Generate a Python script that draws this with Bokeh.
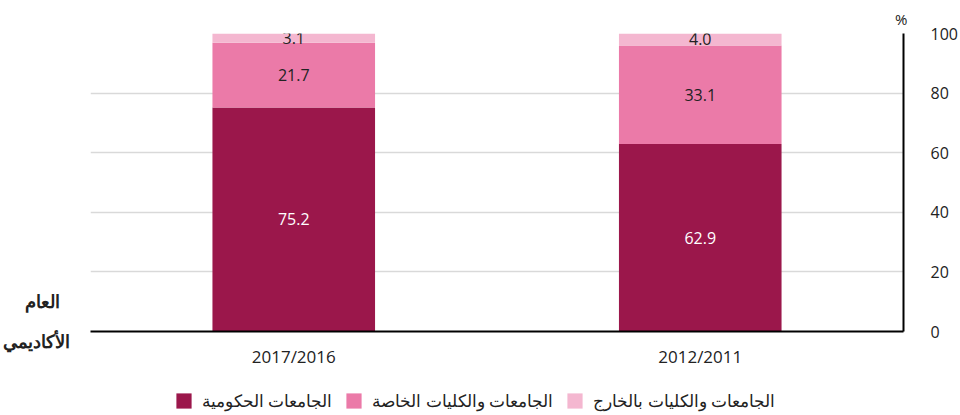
from bokeh.plotting import figure
from bokeh.layouts import row, column
from bokeh.models import (ColumnDataSource, Range1d, FactorRange, Legend,
                          LegendItem, FixedTicker, Title)
from bokeh.core.properties import value
from bokeh.embed import file_html
from bokeh.resources import INLINE

# ---- data ----
years = ["2017/2016", "2012/2011"]
gov = [75.2, 62.9]
private = [21.7, 33.1]
abroad = [3.1, 4.0]
series_keys = ["gov", "private", "abroad"]
series_names = ["الجامعات الحكومية", "الجامعات والكليات الخاصة", "الجامعات والكليات بالخارج"]
colors = ["#9B174B", "#EB7AA8", "#F4B7D0"]
label_colors = ["white", "#222222", "#222222"]
y_ticks = [0, 20, 40, 60, 80, 100]
axis_title_lines = ["العام", "الأكاديمي"]
unit_label = "%"

FONT = "Open Sans"
TXT = "#222222"
MAIN_H = 380
LEG_H = 35

source = ColumnDataSource(dict(years=years, gov=gov, private=private, abroad=abroad))

# ---------------- main chart ----------------
p = figure(x_range=FactorRange(factors=years), y_range=Range1d(0, 100),
           width=870, height=MAIN_H, output_backend="svg", toolbar_location=None,
           y_axis_location="right", min_border_left=0, min_border_right=57,
           min_border_top=33, min_border_bottom=49)
p.outline_line_color = None
p.frame_align = False

renderers = p.vbar_stack(series_keys, x="years", width=0.4, color=colors,
                         line_color=None, source=source)

bottoms = [0.0] * len(years)
for key, lc in zip(series_keys, label_colors):
    vals = source.data[key]
    mids = [b + v / 2 for b, v in zip(bottoms, vals)]
    txt = [f"{v:.1f}" for v in vals]
    s = ColumnDataSource(dict(x=years, y=mids, t=txt))
    p.text(x="x", y="y", text="t", source=s, text_align="center",
           text_baseline="middle", text_color=lc, text_font=value(FONT),
           text_font_size="16px")
    bottoms = [b + v for b, v in zip(bottoms, vals)]

yax = p.yaxis[0]
yax.ticker = FixedTicker(ticks=y_ticks)
yax.major_tick_line_color = None
yax.minor_tick_line_color = None
yax.axis_line_color = "black"
yax.axis_line_width = 2
yax.major_label_text_font = FONT
yax.major_label_text_font_size = "16px"
yax.major_label_text_color = TXT
yax.major_label_standoff = 21

xax = p.xaxis[0]
xax.major_tick_line_color = None
xax.minor_tick_line_color = None
xax.axis_line_color = "black"
xax.axis_line_width = 2
xax.major_label_text_font = FONT
xax.major_label_text_font_size = "17px"
xax.major_label_text_color = TXT
xax.major_label_standoff = 7

p.xgrid.grid_line_color = None
p.ygrid.ticker = FixedTicker(ticks=y_ticks)
p.ygrid.grid_line_color = "#d9d9d9"
p.ygrid.grid_line_width = 1.5

p.add_layout(Title(text=unit_label, align="right", text_font=FONT,
                   text_font_size="15px", text_font_style="normal",
                   text_color=TXT, standoff=9, offset=-4), "above")

# ---------------- left strip with the axis title ----------------
left = figure(width=90, height=MAIN_H, x_range=Range1d(0, 90), y_range=Range1d(MAIN_H, 0),
              output_backend="svg", toolbar_location=None,
              x_axis_location=None, y_axis_location=None, min_border=0)
left.frame_align = False
left.outline_line_color = None
left.xgrid.grid_line_color = None
left.ygrid.grid_line_color = None
left.text(x=[42, 36], y=[300, 340], text=axis_title_lines, text_align="center",
          text_baseline="middle", text_color=TXT, text_font=value(FONT),
          text_font_size="18px", text_font_style="bold")

# ---------------- legend strip ----------------
leg = figure(width=960, height=LEG_H, x_range=FactorRange(factors=years), y_range=Range1d(0, 1),
             output_backend="svg", toolbar_location=None,
             x_axis_location=None, y_axis_location=None, min_border=0)
leg.frame_align = False
leg.outline_line_color = None
leg.xgrid.grid_line_color = None
leg.ygrid.grid_line_color = None
leg_renderers = leg.vbar_stack(series_keys, x="years", width=0.4, color=colors,
                               line_color=None, source=source)
for r in leg_renderers:
    r.visible = False
items = [LegendItem(label=n, renderers=[r]) for n, r in zip(series_names, leg_renderers)]
legend = Legend(items=items, orientation="horizontal", location=(174, 3),
                padding=0, margin=0, spacing=12, glyph_width=19, glyph_height=19,
                label_standoff=9, label_text_font=FONT, label_text_font_size="17px",
                label_text_color=TXT, border_line_color=None,
                background_fill_alpha=0, click_policy="none")
leg.add_layout(legend, "center")

layout = column(row(left, p, spacing=0), leg, spacing=0)
open("out.html", "w").write(file_html(layout, INLINE))
